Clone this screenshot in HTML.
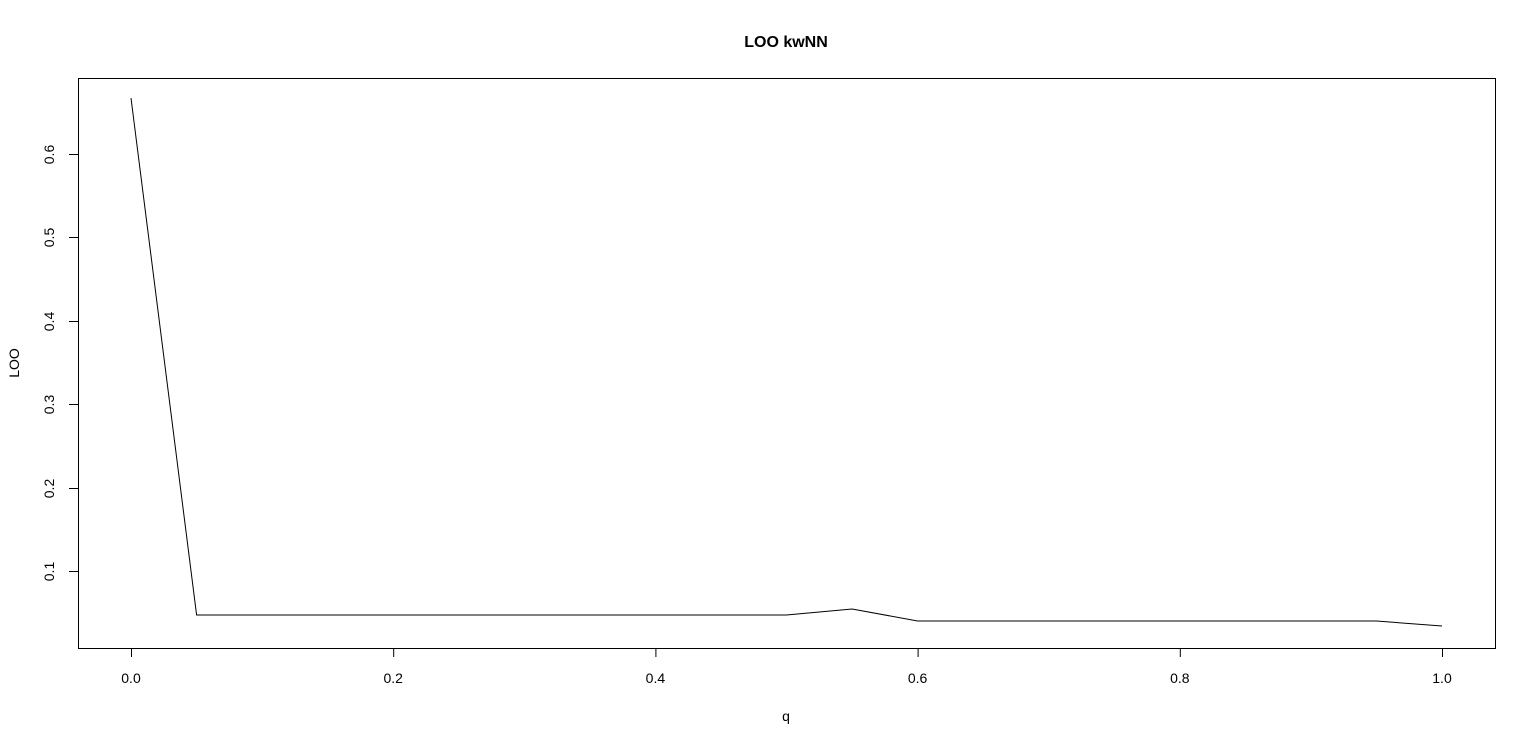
<!DOCTYPE html>
<html><head><meta charset="utf-8"><style>
html,body{margin:0;padding:0;background:#fff;}
svg{display:block;font-family:"Liberation Sans",Arial,sans-serif;}
</style></head><body>
<svg id="chart" width="1536" height="746" viewBox="0 0 1536 746" xmlns="http://www.w3.org/2000/svg">
<text x="786" y="47" text-anchor="middle" font-size="16" font-weight="bold">LOO kwNN</text>
<text x="786" y="721" text-anchor="middle" font-size="14">q</text>
<text transform="translate(19,363) rotate(-90)" text-anchor="middle" font-size="14">LOO</text>
<rect x="78.5" y="78.5" width="1417" height="570" fill="none" stroke="#000" stroke-width="1"/>
<g id="xaxis"></g>
<g id="yaxis"></g>
<g id="series"></g>
</svg>
<script>
const qValues = [0,0.05,0.1,0.15,0.2,0.25,0.3,0.35,0.4,0.45,0.5,0.55,0.6,0.65,0.7,0.75,0.8,0.85,0.9,0.95,1.0];
const looValues = [0.667,0.0473,0.0473,0.0473,0.0473,0.0473,0.0473,0.0473,0.0473,0.0473,0.0473,0.0544,0.040,0.040,0.040,0.040,0.040,0.040,0.040,0.040,0.034];
const xTicks = [0,0.2,0.4,0.6,0.8,1.0];
const xTickLabels = ["0.0","0.2","0.4","0.6","0.8","1.0"];
const yTicks = [0.1,0.2,0.3,0.4,0.5,0.6];
const yTickLabels = ["0.1","0.2","0.3","0.4","0.5","0.6"];

const NS = "http://www.w3.org/2000/svg";
function xs(v){ return 131 + v*1311; }
function ys(v){ return 571 - (v-0.1)*834; }
function mk(tag, attrs){ const e=document.createElementNS(NS,tag); for(const k in attrs) e.setAttribute(k,attrs[k]); return e; }

const xa=document.getElementById('xaxis');
const axL=mk('line',{x1:xs(0),x2:xs(1),y1:648.5,y2:648.5,stroke:'#000'});


xa.appendChild(axL);
xTicks.forEach((t,i)=>{
  const l=mk('line',{x1:xs(t)+0.5,x2:xs(t)+0.5,y1:648,y2:657,stroke:'#000'});
  
  
  xa.appendChild(l);
  const tx=mk('text',{x:xs(t),y:683,'text-anchor':'middle','font-size':'14'});
  
  
  tx.textContent=xTickLabels[i]; xa.appendChild(tx);
});
const ya=document.getElementById('yaxis');
const ayL=mk('line',{x1:78.5,x2:78.5,y1:ys(0.1),y2:ys(0.6),stroke:'#000'});


ya.appendChild(ayL);
yTicks.forEach((t,i)=>{
  const y=Math.round(ys(t))+0.5;
  const l=mk('line',{x1:69,x2:78,y1:y,y2:y,stroke:'#000'});
  
  
  ya.appendChild(l);
  const tx=mk('text',{transform:`translate(54,${y}) rotate(-90)`,'text-anchor':'middle','font-size':'14'});
  
  
  tx.textContent=yTickLabels[i]; ya.appendChild(tx);
});
const pts=qValues.map((q,i)=>xs(q).toFixed(1)+','+ys(looValues[i]).toFixed(1)).join(' ');
const pl=mk('polyline',{points:pts,fill:'none',stroke:'#000','stroke-width':'1'});


document.getElementById('series').appendChild(pl);
</script>
</body></html>
